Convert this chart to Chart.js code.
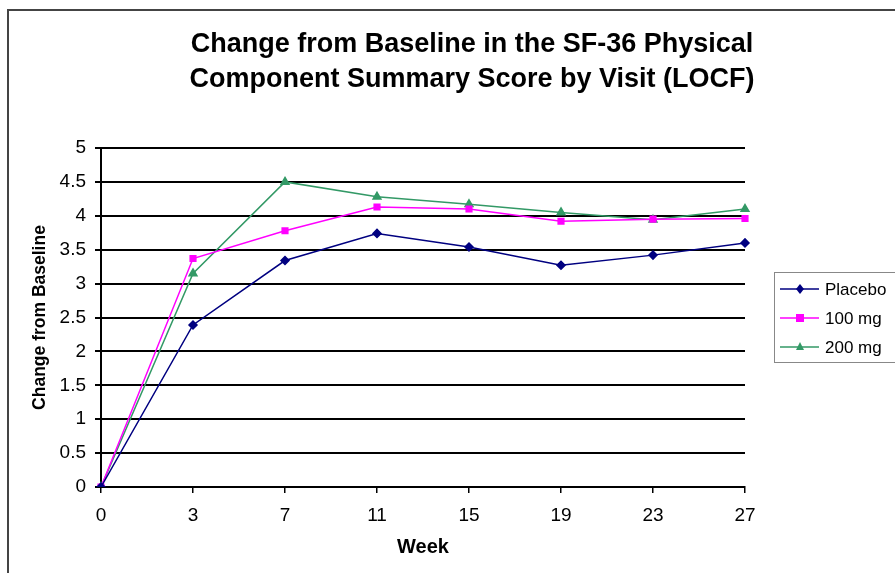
<!DOCTYPE html>
<html lang="en">
<head>
  <meta charset="UTF-8">
  <title>SF-36 Physical Component Summary</title>
  <script src="https://cdn.jsdelivr.net/npm/chart.js"></script>
  <style>
    html, body { margin: 0; padding: 0; background: #fff; }
    .wrap { position: relative; width: 895px; height: 573px; }
  </style>
</head>
<body>
  <div class="wrap">
    <canvas id="pcsChart" width="895" height="573"></canvas>
  </div>

  <script>
    // data
    const weeks = ['0', '3', '7', '11', '15', '19', '23', '27'];
    const placebo = [0, 2.39, 3.34, 3.74, 3.54, 3.27, 3.42, 3.60];
    const mg100 = [0, 3.37, 3.78, 4.13, 4.10, 3.92, 3.95, 3.96];
    const mg200 = [0, 3.15, 4.50, 4.28, 4.17, 4.05, 3.94, 4.10];
    const yTicks = [0, 0.5, 1, 1.5, 2, 2.5, 3, 3.5, 4, 4.5, 5];

    const titleLines = ['Change from Baseline in the SF-36 Physical', 'Component Summary Score by Visit (LOCF)'];
    const FONT = '"Liberation Sans", Arial, sans-serif';

    // frame, title and boxed legend like the Excel original
    const decor = {
      id: 'decor',
      afterDraw(chart) {
        const ctx = chart.ctx;
        ctx.save();
        // outer frame (left and top edges visible)
        ctx.strokeStyle = '#444';
        ctx.lineWidth = 2;
        ctx.beginPath();
        ctx.moveTo(8, 573);
        ctx.lineTo(8, 10);
        ctx.lineTo(895, 10);
        ctx.stroke();

        // title
        ctx.fillStyle = '#000';
        ctx.font = 'bold 27px ' + FONT;
        ctx.textAlign = 'center';
        ctx.textBaseline = 'middle';
        ctx.fillText(titleLines[0], 472, 45);
        ctx.fillText(titleLines[1], 472, 80);

        // legend
        const lx = 774, ly = 272, lw = 130, lh = 90;
        ctx.strokeStyle = '#888';
        ctx.lineWidth = 1;
        ctx.strokeRect(lx + 0.5, ly + 0.5, lw, lh);
        ctx.font = '17px ' + FONT;
        ctx.textAlign = 'left';
        chart.data.datasets.forEach((ds, i) => {
          const y = ly + 17 + i * 29;
          ctx.strokeStyle = ds.borderColor;
          ctx.lineWidth = 1.5;
          ctx.beginPath();
          ctx.moveTo(780, y);
          ctx.lineTo(819, y);
          ctx.stroke();
          ctx.fillStyle = ds.borderColor;
          drawMarker(ctx, ds.pointStyle, 800, y, 4);
          ctx.fillStyle = '#000';
          ctx.fillText(ds.label, 825, y + 1);
        });
        ctx.restore();
      }
    };

    function drawMarker(ctx, style, x, y, r) {
      ctx.beginPath();
      if (style === 'rect') {
        ctx.rect(x - r, y - r, 2 * r, 2 * r);
      } else if (style === 'rectRot') {
        ctx.moveTo(x, y - r - 1);
        ctx.lineTo(x + r, y);
        ctx.lineTo(x, y + r + 1);
        ctx.lineTo(x - r, y);
        ctx.closePath();
      } else {
        ctx.moveTo(x, y - r - 1);
        ctx.lineTo(x + r, y + r - 1);
        ctx.lineTo(x - r, y + r - 1);
        ctx.closePath();
      }
      ctx.fill();
    }

    new Chart(document.getElementById('pcsChart'), {
      type: 'line',
      data: {
        labels: weeks,
        datasets: [
          {
            label: 'Placebo',
            data: placebo,
            borderColor: '#000080',
            backgroundColor: '#000080',
            borderWidth: 1.5,
            pointStyle: 'rectRot',
            pointRadius: 4,
            tension: 0
          },
          {
            label: '100 mg',
            data: mg100,
            borderColor: '#FF00FF',
            backgroundColor: '#FF00FF',
            borderWidth: 1.5,
            pointStyle: 'rect',
            pointRadius: 4,
            tension: 0
          },
          {
            label: '200 mg',
            data: mg200,
            borderColor: '#339966',
            backgroundColor: '#339966',
            borderWidth: 1.5,
            pointStyle: 'triangle',
            pointRadius: 4.5,
            tension: 0
          }
        ]
      },
      options: {
        responsive: false,
        animation: false,
        layout: { padding: { top: 148, right: 150, bottom: 0, left: 0 } },
        plugins: {
          legend: { display: false },
          title: { display: false },
          tooltip: { enabled: false }
        },
        scales: {
          x: {
            offset: false,
            afterFit: (axis) => { axis.height = 86; },
            grid: { drawOnChartArea: false, drawTicks: true, tickLength: 6, color: '#000', lineWidth: 1.5 },
            border: { color: '#000', width: 2 },
            ticks: { color: '#000', font: { family: FONT, size: 19 }, padding: 11, maxRotation: 0 },
            title: {
              display: true,
              text: 'Week',
              color: '#000',
              font: { family: FONT, size: 20, weight: 'bold' },
              padding: { top: 4, bottom: 14 }
            }
          },
          y: {
            min: 0,
            max: 5,
            afterFit: (axis) => { axis.width = 101; },
            afterBuildTicks: (axis) => { axis.ticks = yTicks.map(v => ({ value: v })); },
            grid: { color: '#000', lineWidth: 2, tickLength: 6 },
            border: { color: '#000', width: 2 },
            ticks: {
              color: '#000',
              font: { family: FONT, size: 19 },
              padding: 9,
              callback: (v) => String(v)
            },
            title: {
              display: true,
              text: 'Change from Baseline',
              color: '#000',
              font: { family: FONT, size: 17.5, weight: 'bold' },
              padding: { top: 30, bottom: 0 }
            }
          }
        }
      },
      plugins: [decor]
    });
  </script>
</body>
</html>
